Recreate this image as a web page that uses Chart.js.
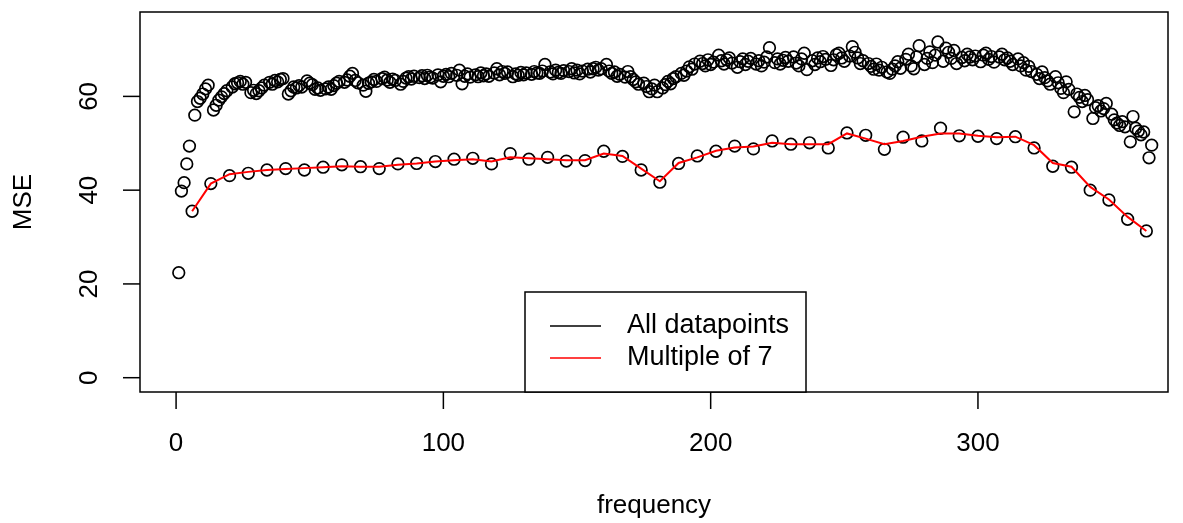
<!DOCTYPE html>
<html>
<head>
<meta charset="utf-8">
<title>MSE by frequency</title>
<script src="https://cdn.jsdelivr.net/npm/chart.js@4.4.1/dist/chart.umd.min.js"></script>
<style>
  html, body { margin: 0; padding: 0; background: #fff; }
  #wrap { width: 1183px; height: 523px; position: relative; }
</style>
</head>
<body>
<div id="wrap"><canvas id="mseChart"></canvas></div>
<script>
// axis ticks
const xTicks = [0, 100, 200, 300]
const yTicks = [0, 20, 40, 60]

// MSE for every frequency that is not one of the weekly ones
// (grouped by the 6-day runs between them)
const allMse = [
  22.4, 39.8, 41.6, 45.6, 49.4,
  56.0, 58.9, 59.6, 60.5, 61.6, 62.4,
  57.1, 58.1, 59.2, 59.9, 60.6, 61.2,
  62.0, 62.7, 62.9, 63.2, 62.6, 63.0,
  60.8, 61.3, 60.6, 61.2, 61.8, 62.4,
  63.0, 62.6, 63.4, 63.1, 63.6, 63.8,
  60.5, 61.2, 62.0, 61.8, 62.3, 62.0,
  63.3, 62.8, 62.5, 61.5, 61.8, 61.3,
  61.6, 62.0, 61.5, 62.3, 62.8, 63.2,
  63.0, 63.5, 64.3, 64.9, 63.4, 62.9,
  62.4, 61.1, 62.8, 63.1, 63.6, 63.2,
  63.8, 64.1, 63.5, 63.0, 63.7, 63.4,
  62.6, 63.2, 63.9, 64.2, 63.7, 64.3,
  64.0, 64.4, 63.8, 64.5, 64.1, 63.9,
  64.6, 63.1, 64.3, 64.7, 64.2, 64.9,
  64.5, 65.6, 62.7, 64.3, 64.8, 64.1,
  64.6, 64.2, 65.0, 64.4, 64.8, 64.3,
  65.0, 65.9, 64.6, 65.3, 64.9, 65.2,
  64.2, 64.8, 64.5, 65.1, 64.6, 65.0,
  64.7, 65.3, 65.0, 64.9, 65.4, 66.8,
  65.2, 64.8, 65.6, 65.1, 64.9, 65.5,
  65.3, 65.9, 65.0, 65.6, 64.8, 65.4,
  65.8, 65.2, 65.9, 66.2, 65.6, 65.9,
  66.8, 65.4, 64.9, 65.2, 64.3, 64.7,
  64.1, 65.3, 64.2, 63.6, 63.1, 62.6,
  62.8, 62.1, 61.0, 61.6, 62.4, 61.0,
  61.8, 62.5, 63.2, 62.7, 63.8, 64.2,
  64.9, 64.5, 65.4, 66.3, 65.8, 66.9,
  67.5, 67.0, 66.5, 67.8, 66.8, 67.3,
  68.8, 67.6, 66.9, 67.8, 68.2, 67.1,
  66.2, 67.4, 68.0, 66.8, 67.5, 68.1,
  66.9, 67.6, 66.5, 67.3, 68.4, 70.4,
  67.2, 68.0, 66.9, 67.7, 68.3, 67.5,
  68.4, 67.1, 66.5, 68.0, 69.2, 65.7,
  67.6, 66.8, 68.2, 67.4, 68.5, 67.9,
  66.6, 67.8, 68.9, 69.2, 68.2, 67.5,
  68.6, 70.6, 69.4, 68.2, 67.0, 67.6,
  67.0, 66.4, 65.8, 66.9, 65.6, 66.2,
  65.2, 64.9, 65.8, 66.5, 67.4, 66.0,
  67.9, 69.0, 66.5, 65.9, 68.4, 70.8,
  66.8, 68.1, 69.5, 67.2, 68.8, 71.6,
  67.5, 70.3, 69.4, 68.1, 69.8, 67.0,
  68.3, 67.6, 69.0, 68.4, 67.8, 68.6,
  67.4, 68.8, 69.2, 67.9, 68.5, 67.3,
  68.4, 69.0, 67.8, 68.2, 67.5, 66.8,
  68.0, 66.5, 67.2, 65.6, 66.4, 65.3,
  64.7, 63.8, 65.2, 64.0, 63.3, 62.6,
  64.2, 62.9, 61.7, 60.8, 63.1, 61.5,
  56.7, 60.5, 59.8, 58.9, 60.2, 59.3,
  55.3, 57.6, 58.0, 56.9, 57.4, 58.5,
  56.2, 55.0, 54.3, 53.8, 54.6, 53.5,
  50.3, 55.7, 53.2, 52.6, 51.8, 52.4,
  46.9, 49.6
]

// weekly frequencies (6, 13, ..., 363)
const sevenMse = [
  35.5, 41.4, 43.1, 43.6, 44.3, 44.6, 44.3, 44.9, 45.4, 45.0, 44.6, 45.6, 45.7,
  46.1, 46.6, 46.8, 45.6, 47.8, 46.6, 47.0, 46.2, 46.3, 48.3, 47.2, 44.3, 41.7,
  45.7, 47.3, 48.3, 49.4, 48.8, 50.5, 49.8, 50.1, 49.0, 52.2, 51.7, 48.7, 51.3,
  50.5, 53.2, 51.6, 51.5, 51.0, 51.4, 49.0, 45.1, 44.9, 40.0, 37.9, 33.8, 31.3
]
// smoothed curve drawn through the weekly points
const sevenSmooth = [
  35.5, 41.4, 43.4, 43.9, 44.3, 44.5, 44.7, 44.9, 45.1, 45.0, 45.0, 45.4, 45.7,
  46.1, 46.4, 46.6, 46.1, 47.0, 46.8, 46.6, 46.4, 46.4, 47.8, 47.3, 44.6, 41.9,
  45.8, 47.0, 48.4, 49.1, 49.3, 50.1, 49.8, 49.8, 49.8, 52.1, 51.0, 49.8, 50.5,
  51.4, 52.1, 52.1, 51.6, 51.3, 51.4, 49.6, 45.8, 45.0, 40.7, 38.0, 34.3, 31.3
]

const FONT = '"Liberation Sans", Arial, Helvetica, sans-serif'

// x positions
const allFreq = []
for (let f = 1; f <= 365; f++) {
  if ((f + 1) % 7 !== 0) allFreq.push(f)
}
const sevenFreq = sevenMse.map((_, i) => 7 * (i + 1) - 1)

const toPoints = (xs, ys) => xs.map((x, i) => ({ x: x, y: ys[i] }))

// R-style frame: box, outside ticks, rotated y labels, legend
const frame = {
  id: 'frame',
  afterDraw(chart) {
    const ctx = chart.ctx
    const a = chart.chartArea
    const xs = chart.scales.x
    const ys = chart.scales.y
    ctx.save()
    ctx.strokeStyle = '#000'
    ctx.fillStyle = '#000'
    ctx.lineWidth = 1.5
    ctx.strokeRect(a.left, a.top, a.right - a.left, a.bottom - a.top)

    ctx.font = '26px ' + FONT
    ctx.textAlign = 'center'
    ctx.textBaseline = 'middle'
    xTicks.forEach(t => {
      const px = xs.getPixelForValue(t)
      ctx.beginPath()
      ctx.moveTo(px, a.bottom)
      ctx.lineTo(px, a.bottom + 17)
      ctx.stroke()
      ctx.fillText(String(t), px, 444)
    })
    yTicks.forEach(t => {
      const py = ys.getPixelForValue(t)
      ctx.beginPath()
      ctx.moveTo(a.left, py)
      ctx.lineTo(a.left - 17, py)
      ctx.stroke()
      ctx.save()
      ctx.translate(90, py)
      ctx.rotate(-Math.PI / 2)
      ctx.fillText(String(t), 0, 0)
      ctx.restore()
    })

    // axis titles
    ctx.fillText('frequency', (a.left + a.right) / 2, 506)
    ctx.save()
    ctx.translate(24, (a.top + a.bottom) / 2)
    ctx.rotate(-Math.PI / 2)
    ctx.fillText('MSE', 0, 0)
    ctx.restore()

    // legend
    const lx = 525, ly = 292, lw = 281, lh = a.bottom - ly
    ctx.fillStyle = '#fff'
    ctx.fillRect(lx, ly, lw, lh)
    ctx.strokeStyle = '#000'
    ctx.strokeRect(lx, ly, lw, lh)
    const rows = [['All datapoints', '#000', 326], ['Multiple of 7', '#ff0000', 358]]
    ctx.textAlign = 'left'
    ctx.font = '27px ' + FONT
    rows.forEach(r => {
      ctx.strokeStyle = r[1]
      ctx.lineWidth = 1.4
      ctx.beginPath()
      ctx.moveTo(550, r[2])
      ctx.lineTo(601, r[2])
      ctx.stroke()
      ctx.fillStyle = '#000'
      ctx.fillText(r[0], 627, r[2])
    })
    ctx.restore()
  }
}

const ctx = document.getElementById('mseChart').getContext('2d')
const chart = new Chart(ctx, {
  type: 'scatter',
  data: {
    datasets: [
      {
        label: 'Multiple of 7',
        data: toPoints(sevenFreq, sevenSmooth),
        showLine: true,
        borderColor: '#ff0000',
        borderWidth: 2,
        pointRadius: 0,
        fill: false,
      },
      {
        label: 'weekly',
        data: toPoints(sevenFreq, sevenMse),
        pointStyle: 'circle',
        pointRadius: 5.8,
        pointBorderWidth: 1.7,
        borderColor: '#000',
        backgroundColor: 'rgba(0,0,0,0)',
      },
      {
        label: 'All datapoints',
        data: toPoints(allFreq, allMse),
        pointStyle: 'circle',
        pointRadius: 5.8,
        pointBorderWidth: 1.7,
        borderColor: '#000',
        backgroundColor: 'rgba(0,0,0,0)',
      },
    ],
  },
  options: {
    responsive: true,
    maintainAspectRatio: false,
    animation: false,
    events: [],
    layout: {
      padding: { left: 140, right: 15, top: 12, bottom: 131 },
    },
    plugins: {
      legend: { display: false },
      tooltip: { enabled: false },
    },
    scales: {
      x: { type: 'linear', display: false, min: -13.5, max: 371.1 },
      y: { type: 'linear', display: false, min: -3.05, max: 78 },
    },
  },
  plugins: [frame],
})
</script>
</body>
</html>
